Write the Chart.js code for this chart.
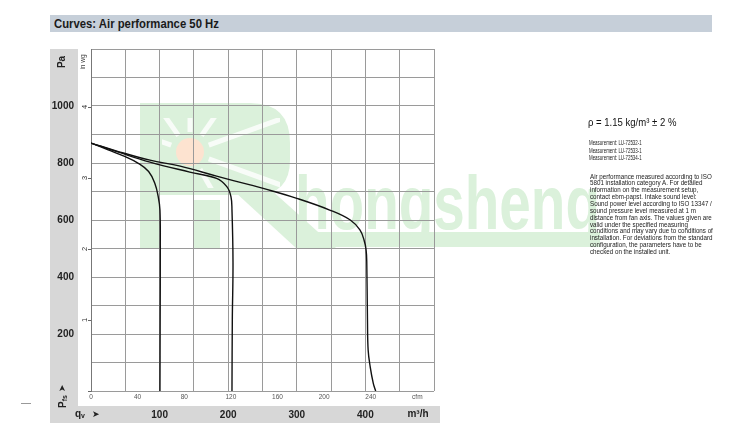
<!DOCTYPE html>
<html>
<head>
<meta charset="utf-8">
<title>Curves: Air performance 50 Hz</title>
<script src="https://cdn.jsdelivr.net/npm/chart.js@4.4.1/dist/chart.umd.min.js"></script>
<style>
  html, body { margin: 0; padding: 0; background: #fff; }
  #wrap { position: relative; width: 750px; height: 444px; overflow: hidden; font-family: "Liberation Sans", Arial, sans-serif; }
  #chart { position: absolute; left: 0; top: 0; }
  .header { position: absolute; left: 50px; top: 15px; width: 662px; height: 17px; background: #c6cfd9; }
  .header span { position: absolute; left: 4px; top: 0; line-height: 17px; font-size: 13px; font-weight: bold; color: #1a1a1a; white-space: nowrap; transform: scaleX(0.87); transform-origin: left center; }
  .note { position: absolute; color: #222; white-space: pre; transform-origin: left top; }
</style>
</head>
<body>
<div id="wrap">
  <canvas id="chart" width="750" height="444"></canvas>
  <div class="header"><span>Curves: Air performance 50 Hz</span></div>
  <div class="note" style="left:588px; top:114.5px; font-size:11.5px; line-height:14px; color:#111; transform:scaleX(0.83);">ρ = 1.15 kg/m³ ± 2 %</div>
  <div class="note" style="left:589px; top:138.8px; font-size:6.3px; line-height:7.8px; transform:scaleX(0.7);">Measurement: LU-72532-1
Measurement: LU-72533-1
Measurement: LU-72534-1</div>
  <div class="note" style="left:590px; top:173.6px; font-size:7.5px; line-height:6.85px; transform:scaleX(0.83);">Air performance measured according to ISO
5801 installation category A. For detailed
information on the measurement setup,
contact ebm-papst. Intake sound level:
Sound power level according to ISO 13347 /
sound pressure level measured at 1 m
distance from fan axis. The values given are
valid under the specified measuring
conditions and may vary due to conditions of
installation. For deviations from the standard
configuration, the parameters have to be
checked on the installed unit.</div>
</div>
<script>
// Air performance curves, static pressure over volume flow (m³/h, Pa)
const curve1Qv = [0, 25, 50, 69, 84, 93, 98, 100.5, 101, 100.8, 100.5];
const curve1Pa = [870, 846, 822, 799, 770, 729, 682, 635, 500, 250, 0];

const curve2Qv = [0, 40, 86, 144, 183, 198, 204, 205.5, 207, 206, 205.5];
const curve2Pa = [870, 838, 803, 768, 746, 717, 682, 635, 450, 250, 0];

const curve3Qv = [0, 40, 86, 130, 183, 232, 251, 300, 348, 378, 392, 398, 401, 402, 403, 404, 407, 411.5, 415];
const curve3Pa = [870, 840, 810, 789, 754, 723, 711, 676, 635, 600, 565, 530, 495, 449, 249, 144, 85, 27, 0];

const qvMax = 500;      // m³/h
const paMax = 1200;     // Pa
const M3H_PER_CFM = 1.699;
const PA_PER_INWG = 249.089;

const FONT = '"Liberation Sans", Arial, sans-serif';
const gridColor = '#9a9a9a';
const bandColor = '#d7d7d7';
const markGreen = '#dbf1db';

Chart.defaults.font.family = FONT;

function toPoints(xs, ys) {
  return xs.map((x, i) => ({ x: x, y: ys[i] }));
}

function curve(xs, ys) {
  return {
    data: toPoints(xs, ys),
    showLine: true,
    borderColor: '#111',
    borderWidth: 1.4,
    pointRadius: 0,
    tension: 0.4,
    fill: false,
    xAxisID: 'x',
    yAxisID: 'y',
  };
}

function drawWatermark(ctx) {
  ctx.save();
  ctx.fillStyle = markGreen;
  // logo body
  ctx.beginPath();
  ctx.moveTo(140, 103);
  ctx.lineTo(250, 103);
  ctx.quadraticCurveTo(290, 103, 290, 143);
  ctx.lineTo(290, 160);
  ctx.quadraticCurveTo(290, 195, 255, 195);
  ctx.lineTo(160, 195);
  ctx.lineTo(160, 248);
  ctx.lineTo(140, 248);
  ctx.closePath();
  ctx.fill();
  // leg
  ctx.beginPath();
  ctx.moveTo(222, 180);
  ctx.lineTo(260, 180);
  ctx.lineTo(336, 248);
  ctx.lineTo(296, 248);
  ctx.closePath();
  ctx.fill();
  ctx.fillRect(193, 200, 27, 48);
  ctx.fillRect(297, 232, 303, 15);

  // rays
  ctx.save();
  ctx.beginPath();
  ctx.rect(162, 118, 118, 70);
  ctx.clip();
  ctx.strokeStyle = 'rgba(255,255,255,0.8)';
  ctx.lineWidth = 5;
  [200, 235, 270, 305, 340, 20, 60].forEach(a => {
    const r = a * Math.PI / 180;
    ctx.beginPath();
    ctx.moveTo(190 + Math.cos(r) * 20, 152 + Math.sin(r) * 20);
    ctx.lineTo(190 + Math.cos(r) * 110, 152 + Math.sin(r) * 110);
    ctx.stroke();
  });
  ctx.restore();

  ctx.fillStyle = '#fde3d0';
  ctx.beginPath();
  ctx.arc(190, 152, 14, 0, Math.PI * 2);
  ctx.fill();

  ctx.fillStyle = markGreen;
  ctx.font = 'bold 76px ' + FONT;
  const w = ctx.measureText('hongsheng').width;
  ctx.translate(295, 229);
  ctx.scale(305 / w, 1);
  ctx.textBaseline = 'alphabetic';
  ctx.fillText('hongsheng', 0, 0);
  ctx.restore();
}

function drawUnits(chart) {
  const { ctx, chartArea } = chart;
  const paScale = chart.scales.y;
  const qvScale = chart.scales.x;
  ctx.save();
  ctx.fillStyle = '#222';
  ctx.textBaseline = 'middle';

  // "Pa" and "in wg" headings, rotated
  ctx.save();
  ctx.translate(paScale.left + 12.5, chartArea.top + 13);
  ctx.rotate(-Math.PI / 2);
  ctx.textAlign = 'center';
  ctx.font = 'bold 10px ' + FONT;
  ctx.fillText('Pa', 0, 0);
  ctx.restore();

  ctx.save();
  ctx.translate(chartArea.left - 7.5, chartArea.top + 13);
  ctx.rotate(-Math.PI / 2);
  ctx.textAlign = 'center';
  ctx.font = '6.5px ' + FONT;
  ctx.fillStyle = '#444';
  ctx.fillText('in wg', 0, 0);
  ctx.restore();

  // "Pfs >" at bottom of the pressure band
  ctx.save();
  ctx.translate(paScale.left + 13, chartArea.bottom + 17);
  ctx.rotate(-Math.PI / 2);
  ctx.textAlign = 'left';
  ctx.font = 'bold 10px ' + FONT;
  ctx.fillText('P', 0, 0);
  let off = ctx.measureText('P').width;
  ctx.font = 'bold 7px ' + FONT;
  ctx.fillText('fs', off, 2);
  off += ctx.measureText('fs').width + 3;
  ctx.font = '9px "DejaVu Sans", sans-serif';
  ctx.fillText('➤', off, 0);
  ctx.restore();

  // "qv >" and "m³/h" in the flow band
  const yMid = qvScale.top + qvScale.height / 2;
  ctx.textAlign = 'left';
  ctx.font = 'bold 10px ' + FONT;
  ctx.fillText('q', 75, yMid - 0.5);
  const wq = ctx.measureText('q').width;
  ctx.font = 'bold 7px ' + FONT;
  ctx.fillText('v', 75 + wq, yMid + 1.5);
  ctx.font = '9px "DejaVu Sans", sans-serif';
  ctx.fillText('➤', 92, yMid);

  ctx.textAlign = 'center';
  ctx.font = 'bold 10px ' + FONT;
  ctx.fillText('m³/h', 418, yMid);

  // small stray dash at far left
  ctx.strokeStyle = '#999';
  ctx.lineWidth = 1;
  ctx.beginPath();
  ctx.moveTo(21, 403.5);
  ctx.lineTo(31, 403.5);
  ctx.stroke();
  ctx.restore();
}

const framePlugin = {
  id: 'frame',
  beforeDraw(chart) {
    const { ctx, chartArea } = chart;
    const paScale = chart.scales.y;
    const qvScale = chart.scales.x;
    ctx.save();
    ctx.fillStyle = '#fff';
    ctx.fillRect(0, 0, chart.width, chart.height);
    ctx.fillStyle = bandColor;
    ctx.fillRect(paScale.left, chartArea.top, paScale.width, qvScale.bottom - chartArea.top);
    ctx.fillRect(paScale.left, qvScale.top, chartArea.right + 6 - paScale.left, qvScale.height);
    ctx.restore();
    drawWatermark(ctx);
  },
  afterDraw(chart) {
    drawUnits(chart);
  },
};

new Chart(document.getElementById('chart'), {
  type: 'scatter',
  data: {
    datasets: [
      curve(curve1Qv, curve1Pa),
      curve(curve2Qv, curve2Pa),
      curve(curve3Qv, curve3Pa),
    ],
  },
  options: {
    responsive: false,
    animation: false,
    events: [],
    layout: { padding: { left: 50, top: 49, right: 316, bottom: 21 } },
    plugins: {
      legend: { display: false },
      tooltip: { enabled: false },
    },
    scales: {
      x: {
        type: 'linear',
        position: 'bottom',
        weight: 2,
        min: 0,
        max: qvMax,
        ticks: {
          stepSize: 50,
          autoSkip: false,
          maxRotation: 0,
          padding: 3,
          color: '#222',
          font: { size: 10, weight: 'bold' },
          callback: v => (v % 100 === 0 && v > 0 && v < qvMax) ? v : '',
        },
        grid: { color: gridColor, drawTicks: false },
        border: { display: false },
        afterFit: s => { s.height = 17; },
      },
      cfm: {
        type: 'linear',
        position: 'bottom',
        weight: 1,
        min: 0,
        max: qvMax / M3H_PER_CFM,
        ticks: {
          stepSize: 40,
          includeBounds: false,
          autoSkip: false,
          maxRotation: 0,
          padding: 2,
          color: '#555',
          font: { size: 6.5 },
          callback: v => (v === 280 ? 'cfm' : v),
        },
        grid: { drawOnChartArea: false, drawTicks: false },
        border: { display: false },
        afterFit: s => { s.height = 15; },
      },
      y: {
        type: 'linear',
        position: 'left',
        weight: 2,
        min: 0,
        max: paMax,
        ticks: {
          stepSize: 100,
          padding: 4,
          color: '#222',
          font: { size: 10, weight: 'bold' },
          callback: v => (v % 200 === 0 && v > 0 && v < paMax) ? v : '',
        },
        grid: { color: gridColor, drawTicks: false },
        border: { display: false },
        afterFit: s => { s.width = 28; },
      },
      wg: {
        type: 'linear',
        position: 'left',
        weight: 1,
        min: 0,
        max: paMax / PA_PER_INWG,
        ticks: {
          stepSize: 1,
          includeBounds: false,
          minRotation: 90,
          maxRotation: 90,
          crossAlign: 'center',
          padding: 1,
          color: '#333',
          font: { size: 7.5 },
          callback: v => (v > 0 ? v : ''),
        },
        grid: { drawOnChartArea: false, drawTicks: true, tickLength: 3, color: '#666' },
        border: { display: true, color: '#777' },
        afterFit: s => { s.width = 13; },
      },
    },
  },
  plugins: [framePlugin],
});
</script>
</body>
</html>
